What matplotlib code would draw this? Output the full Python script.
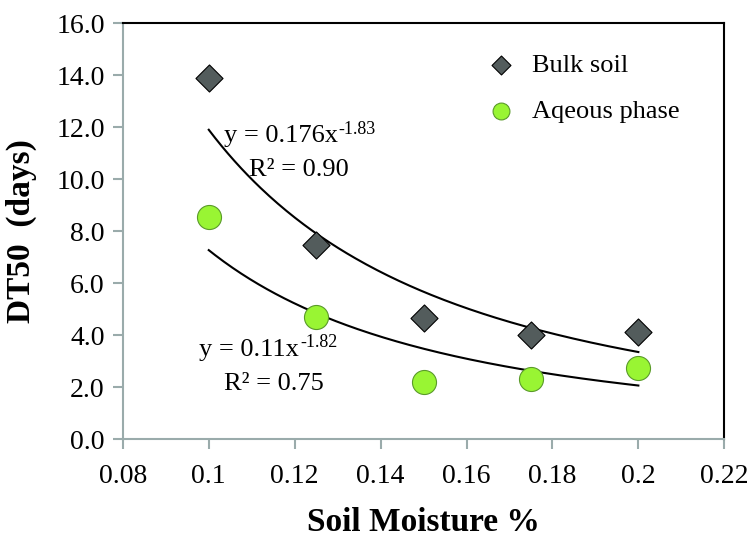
import numpy as np
import matplotlib
matplotlib.use("Agg")
import matplotlib.pyplot as plt

plt.rcParams['font.family'] = ['Liberation Serif', 'DejaVu Serif']

moisture = [0.1, 0.125, 0.15, 0.175, 0.2]
bulk_soil = [13.9, 7.45, 4.65, 4.0, 4.1]
aqueous = [8.55, 4.7, 2.2, 2.3, 2.75]

# power-law fits y = a * x^b
bulk_fit = (0.176, -1.83)
aq_fit = (0.11, -1.82)

fig = plt.figure(figsize=(7.49, 5.39), dpi=100)
ax = fig.add_axes([0.164, 0.1855, 0.803, 0.7715])

ax.scatter(moisture, bulk_soil, marker='D', s=190, color='#535c5c',
           edgecolor='black', linewidth=0.8, zorder=3, label='Bulk soil')
ax.scatter(moisture, aqueous, marker='o', s=300, color='#99f533',
           edgecolor='#5a9a2a', linewidth=0.8, zorder=3, label='Aqeous phase')

xs = np.linspace(0.1, 0.2, 200)
ax.plot(xs, bulk_fit[0] * xs ** bulk_fit[1], color='black', lw=1.5, zorder=2)
ax.plot(xs, aq_fit[0] * xs ** aq_fit[1], color='black', lw=1.5, zorder=2)


def equation(x, y, a, b, r2):
    t = ax.text(x, y, f'y = {a}x', fontsize=19, ha='left', va='center')
    ax.annotate(f'-{abs(b)}', xy=(1, 0.62), xycoords=t, xytext=(0.5, 0),
                textcoords='offset points', fontsize=13, ha='left', va='baseline')
    ax.text(x + 0.0058, y - 1.3, f'R² = {r2:.2f}', fontsize=19, ha='left', va='center')


equation(0.1035, 11.65, bulk_fit[0], bulk_fit[1], 0.90)
equation(0.0978, 3.42, aq_fit[0], aq_fit[1], 0.75)

ax.set_xlim(0.08, 0.22)
ax.set_ylim(0, 16)
ax.set_xticks([0.08, 0.1, 0.12, 0.14, 0.16, 0.18, 0.2, 0.22])
ax.set_xticklabels(['0.08', '0.1', '0.12', '0.14', '0.16', '0.18', '0.2', '0.22'])
ax.set_yticks(np.arange(0, 17, 2))
ax.set_yticklabels([f'{v:.1f}' for v in np.arange(0, 17, 2)])

for s in ['left', 'bottom']:
    ax.spines[s].set_color('#9aabab')
    ax.spines[s].set_linewidth(1.5)
for s in ['top', 'right']:
    ax.spines[s].set_color('black')
    ax.spines[s].set_linewidth(1.5)
ax.tick_params(direction='out', length=7, width=1.5, color='#9aabab',
               labelsize=20, pad=6)
ax.tick_params(axis='x', pad=11)

ax.set_xlabel('Soil Moisture %', fontsize=24, fontweight='bold', labelpad=13)
ax.set_ylabel('DT50  (days)', fontsize=24, fontweight='bold', labelpad=14)

ax.legend(loc='upper left', bbox_to_anchor=(0.545, 0.985), frameon=False,
          fontsize=19, handletextpad=0.2, labelspacing=0.85, scatterpoints=1,
          markerscale=0.7)

fig.savefig('out.png', dpi=100)
